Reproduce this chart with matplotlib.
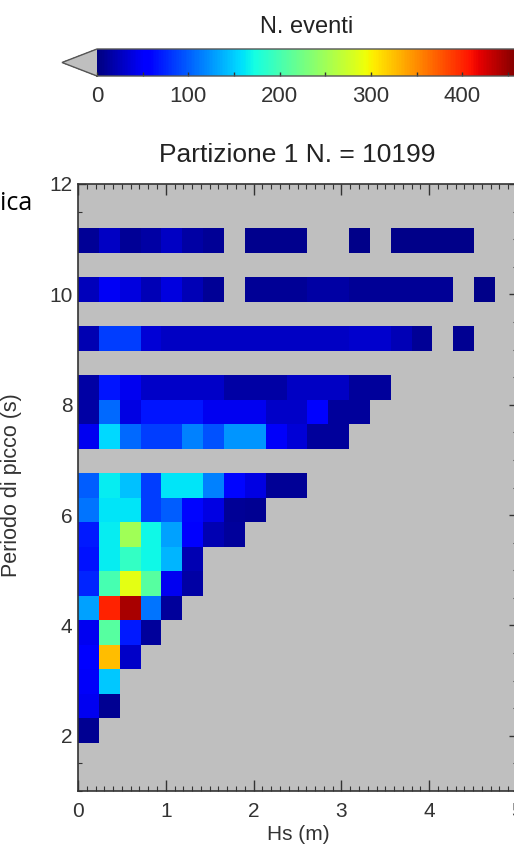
import numpy as np
import matplotlib
matplotlib.use("Agg")
import matplotlib.pyplot as plt
from matplotlib.ticker import MultipleLocator

# ---- data ----
hs_bin_width = 0.2375          # Hs bin width (m)
n_hs_bins = 20
tp_first_edge = 1.87           # lower edge of first period bin (s)
tp_bin_width = 0.444
n_tp_bins = 21

N = None
# counts per period row (bottom -> top), starting at Hs bin 0
r00 = [8]
r01 = [45, 8]
r02 = [50, 148]
r03 = [55, 327, 30]
r04 = [45, 210, 70, 12]
r05 = [130, 402, 443, 110, 12]
r06 = [75, 200, 288, 210, 45, 15]
r07 = [65, 165, 190, 170, 140, 20]
r08 = [70, 165, 250, 170, 130, 55, 20, 12]
r09 = [110, 160, 160, 85, 100, 60, 40, 10, 8]
r10 = [100, 165, 145, 85, 160, 160, 115, 60, 40, 10, 10]
r11 = []
r12 = [45, 155, 105, 85, 85, 115, 95, 125, 125, 50, 35, 12, 12]
r13 = [15, 105, 40, 68, 68, 68, 45, 45, 45, 30, 30, 58, 12, 12]
r14 = [15, 68, 45, 30, 30, 30, 30, 15, 15, 15, 27, 27, 27, 12, 12]
r15 = []
r16 = [20, 85, 85, 35, 27, 27, 27, 27, 27, 27, 27, 27, 27, 32, 32, 22, 10, N, 8]
r17 = []
r18 = [25, 48, 38, 22, 38, 22, 10, N, 10, 10, 10, 16, 16, 10, 10, 10, 10, 10, N, 5]
r19 = []
r20 = [10, 28, 10, 16, 28, 16, 10, N, 6, 6, 6, N, N, 4, N, 4, 4, 4, 4]

rows = [r00, r01, r02, r03, r04, r05, r06, r07, r08, r09, r10,
        r11, r12, r13, r14, r15, r16, r17, r18, r19, r20]

title_text = "Partizione 1 N. = 10199"
cbar_label = "N. eventi"
xlabel = "Hs (m)"
ylabel = "Periodo di picco (s)"
cbar_ticks = [0, 100, 200, 300, 400]
vmax = 460

# ---- build grid ----
grid = np.full((n_tp_bins, n_hs_bins), np.nan)
for i, r in enumerate(rows):
    for j, v in enumerate(r):
        if v is not None:
            grid[i, j] = v
grid = np.ma.masked_invalid(grid)
x_edges = np.arange(n_hs_bins + 1) * hs_bin_width
y_edges = tp_first_edge + np.arange(n_tp_bins + 1) * tp_bin_width

W, H = 514, 847
fig = plt.figure(figsize=(W / 100, H / 100), dpi=100)
fig.patch.set_facecolor("white")

def fx(px):
    return px / W

def fy(py):
    return 1 - py / H

gray = "#bfbfbf"
cmap = plt.get_cmap("jet").copy()
cmap.set_under(gray)
cmap.set_bad(gray)

font = ["Liberation Sans", "DejaVu Sans"]
tcol = "#333333"

ax = fig.add_axes([fx(78), fy(791), (517 - 78) / W, (791 - 184) / H])
ax.set_facecolor(gray)
mesh = ax.pcolormesh(x_edges, y_edges, grid, cmap=cmap, vmin=0, vmax=vmax)
ax.set_xlim(0, 5)
ax.set_ylim(1, 12)
ax.set_axisbelow(True)
ax.xaxis.set_major_locator(MultipleLocator(1))
ax.xaxis.set_minor_locator(MultipleLocator(0.1))
ax.yaxis.set_major_locator(MultipleLocator(2))
ax.yaxis.set_minor_locator(MultipleLocator(0.5))
ax.tick_params(axis="x", which="major", direction="in", length=8, width=1,
               top=True, bottom=True, labelsize=15, pad=8, colors=tcol)
ax.tick_params(axis="x", which="minor", direction="in", length=3.5, width=0.8,
               top=True, bottom=True, colors=tcol)
ax.tick_params(axis="y", which="major", direction="in", length=6, width=1,
               left=True, right=True, labelsize=15, pad=4, colors=tcol)
ax.tick_params(axis="y", which="minor", direction="in", length=3, width=0.8,
               left=True, right=True, colors=tcol)
for lab in ax.get_xticklabels() + ax.get_yticklabels():
    lab.set_family(font)
for s in ax.spines.values():
    s.set_color("#333333")
    s.set_linewidth(1.2)

fig.text(fx(297), fy(155), title_text, ha="center", va="center",
         fontsize=19, family=font, color="#222222")
fig.text(fx(298), fy(834), xlabel, ha="center", va="center",
         fontsize=15, family=font, color=tcol)
fig.text(fx(12), fy(485), ylabel, ha="center", va="center", rotation=90,
         fontsize=15.5, family=font, color=tcol)

# colorbar
cax = fig.add_axes([fx(62), fy(76), (517 - 62) / W, (76 - 49) / H])
cb = fig.colorbar(mesh, cax=cax, orientation="horizontal", extend="min",
                  extendfrac=0.0833, ticks=cbar_ticks)
cb.outline.set_edgecolor("#555555")
cb.outline.set_linewidth(1)
cax.xaxis.set_minor_locator(MultipleLocator(50))
cax.tick_params(axis="x", which="both", direction="in", length=3, width=1,
                colors=tcol, labelsize=16, pad=7)
for lab in cax.get_xticklabels():
    lab.set_family(font)
fig.text(fx(307), fy(27), cbar_label, ha="center", va="center",
         fontsize=17, family=font, color="#222222")

# fragment of slide text at the left edge
fig.text(fx(0), fy(210), "ica", ha="left", va="baseline", fontsize=18,
         family=["Open Sans", "DejaVu Sans"], color="black")

fig.savefig("out.png", dpi=100)
